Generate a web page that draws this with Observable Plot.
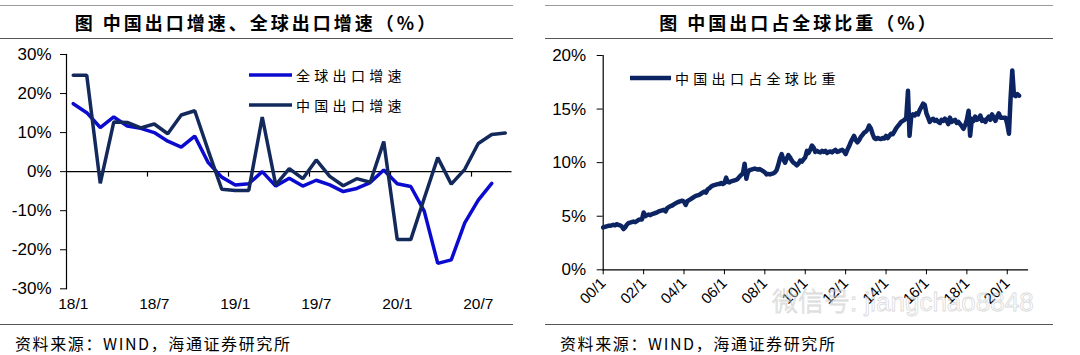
<!DOCTYPE html>
<html>
<head>
<meta charset="utf-8">
<script src="https://cdn.jsdelivr.net/npm/d3@7"></script>
<script src="https://cdn.jsdelivr.net/npm/@observablehq/plot@0.6"></script>
<style>
  html, body { margin: 0; padding: 0; background: #fff; }
  #page { position: relative; width: 1080px; height: 355px; overflow: hidden; background: #fff;
          font-family: "Noto Sans CJK SC", "Liberation Sans", sans-serif; color: #000; }
  .title { position: absolute; top: 5px; height: 32px; border-top: 1px solid #9a9a9a; border-bottom: 1.5px solid #555;
           text-align: center; line-height: 32px; font-weight: 700; font-size: 18px; letter-spacing: 3px; }
  .foot { position: absolute; top: 324px; height: 31px; border-top: 1.3px solid #555; font-size: 16px; letter-spacing: 1.6px; }
  .foot span { position: absolute; top: 6px; white-space: nowrap; }
  .panel { position: absolute; top: 40px; width: 540px; height: 280px; }
  .legend { position: absolute; display: flex; align-items: center; font-size: 14px; letter-spacing: 4.3px; white-space: nowrap; }
  .legend svg { margin-right: 4px; }
  .wm { position: absolute; left: 772px; top: 281px; font-family: "Liberation Sans", "Noto Sans CJK SC", sans-serif;
        font-size: 26px; font-weight: 300; color: rgba(255,255,255,0.2); -webkit-text-stroke: 0.8px rgba(190,190,190,0.6);
        white-space: nowrap; letter-spacing: 0px; pointer-events: none; }
</style>
</head>
<body>
<div id="page">
  <div class="title" style="left:0;width:513px;">图 中国出口增速、全球出口增速（%）</div>
  <div class="title" style="left:545px;width:508px;">图 中国出口占全球比重（%）</div>
  <div class="panel" id="left" style="left:0;"></div>
  <div class="panel" id="right" style="left:540px;"></div>
  <div class="legend" id="legL1" style="left:249px;top:65px;"></div>
  <div class="legend" id="legL2" style="left:249px;top:95px;"></div>
  <div class="legend" id="legR" style="left:630px;top:68px;"></div>
  <div class="wm">微信号: jiangchao8848</div>
  <div class="foot" style="left:0;width:513px;"><span style="left:15px;">资料来源：WIND，海通证券研究所</span></div>
  <div class="foot" style="left:545px;width:508px;"><span style="left:15px;">资料来源：WIND，海通证券研究所</span></div>
</div>
<script>
// ---------- Left chart data: monthly, 2018/1 .. 2020/9 (%) ----------
const leftStartYear = 2018;
const leftTickLabels = ["18/1", "18/7", "19/1", "19/7", "20/1", "20/7"];
const leftYTicks = [-30, -20, -10, 0, 10, 20, 30];
const seriesNames = ["全球出口增速", "中国出口增速"];
const globalGrowth = [
  17.4, 15.1, 11.3, 14.0, 11.7, 11.1, 10.0, 7.8, 6.3, 9.1, 2.3, -1.4,
  -3.4, -3.1, 0.0, -3.7, -1.7, -3.7, -2.2, -3.4, -5.1, -4.3, -2.8, 0.4,
  -3.1, -3.8, -10.1, -23.5, -22.6, -13.1, -7.3, -3.0
];
const chinaGrowth = [
  24.7, 24.7, -3.0, 12.7, 12.6, 11.2, 12.2, 9.7, 14.5, 15.6, 5.4, -4.5,
  -4.8, -4.8, 14.0, -3.4, 0.8, -1.8, 3.0, -1.2, -3.6, -1.8, -2.7, 7.7,
  -17.4, -17.4, -6.8, 3.6, -3.2, 0.6, 7.2, 9.5, 9.9
];

// ---------- Right chart data: monthly share, 2000/1 .. 2020/8 (%) ----------
const rightStartYear = 2000;
const rightTickLabels = ["00/1","02/1","04/1","06/1","08/1","10/1","12/1","14/1","16/1","18/1","20/1"];
const rightYTicks = [0, 5, 10, 15, 20];
const shareName = "中国出口占全球比重";
const chinaShare = [
  3.95,4.0,4.05,4.1,4.1,4.15,4.2,4.15,4.25,4.2,4.15,4.05,        // 2000
  3.8,3.95,4.2,4.35,4.4,4.45,4.5,4.45,4.55,4.65,4.7,4.7,         // 2001
  5.35,5.0,5.1,5.15,5.1,5.2,5.25,5.3,5.35,5.45,5.5,5.55,         // 2002
  5.6,5.45,5.75,5.85,5.95,6.0,6.1,6.2,6.3,6.35,6.4,6.45,         // 2003
  6.35,6.05,6.4,6.5,6.6,6.7,6.8,6.9,6.95,7.0,7.1,7.2,            // 2004
  7.3,7.2,7.5,7.6,7.75,7.85,7.9,7.95,8.0,8.0,8.1,8.0,            // 2005
  8.1,8.6,8.2,8.15,8.25,8.3,8.35,8.4,8.5,8.7,8.85,9.0,           // 2006
  9.9,8.5,9.1,9.3,9.35,9.4,9.45,9.4,9.35,9.4,9.3,9.2,            // 2007
  9.1,8.9,8.95,8.9,8.95,9.0,9.1,9.3,9.8,10.4,10.8,10.3,          // 2008
  10.0,10.4,10.7,10.5,10.2,10.0,9.9,9.75,9.9,10.2,10.1,10.3,     // 2009
  10.5,11.1,10.9,11.2,11.6,11.4,11.0,11.1,11.0,10.95,11.1,11.0,  // 2010
  11.1,10.9,11.0,11.05,10.95,11.1,11.2,11.0,11.05,11.15,11.2,11.05, // 2011
  10.8,11.2,11.5,11.9,12.2,12.5,12.1,11.9,12.1,12.4,12.6,12.8,   // 2012
  12.9,13.1,13.45,13.2,12.7,12.3,12.2,12.3,12.25,12.2,12.3,12.25, // 2013
  12.5,12.3,12.5,12.7,12.65,12.9,13.2,13.4,13.6,13.8,13.9,14.0,  // 2014
  14.2,16.7,12.5,14.3,14.5,14.4,14.6,14.5,14.9,15.2,15.5,15.4,   // 2015
  14.6,14.2,13.8,14.0,14.1,13.9,14.0,13.8,13.7,14.0,13.9,14.1,   // 2016
  13.9,13.6,14.2,13.8,13.9,14.0,13.7,13.8,13.6,13.4,13.15,13.5,  // 2017
  14.0,14.85,12.5,14.1,13.9,14.3,14.0,14.1,14.4,13.9,14.0,13.8,  // 2018
  14.1,14.3,14.0,14.5,14.2,13.9,14.3,14.6,14.2,14.2,14.2,14.2,   // 2019
  13.6,12.7,16.0,18.6,16.3,16.2,16.4,16.25                      // 2020
];

const blue = "#0b0bd0";
const navy = "#14295b";
const navyR = "#0c2462";
const font = "'Liberation Sans', Arial, sans-serif";

// ---------- Left chart ----------
const labelIdx = leftTickLabels.map((_, k) => k * 6);
const boundaryIdx = leftTickLabels.slice(1).map((_, k) => (k + 1) * 6 - 0.5);

const left = Plot.plot({
  width: 540, height: 280,
  marginLeft: 66, marginRight: 28.5, marginTop: 14, marginBottom: 31.7,
  style: {fontFamily: font, color: "#000", background: "transparent", overflow: "visible"},
  x: {domain: [-0.5, chinaGrowth.length - 0.5], label: null},
  y: {domain: [-30, 30], label: null},
  marks: [
    Plot.frame({anchor: "left", stroke: "#000", strokeWidth: 1.2}),
    Plot.ruleY([0], {stroke: "#000", strokeWidth: 1.2}),
    Plot.ruleX(boundaryIdx, {x: d => d, y1: 0, y2: -1.4, stroke: "#000", strokeWidth: 1.2}),
    Plot.axisY({ticks: leftYTicks, tickFormat: d => d + "%", tickSize: 6, tickPadding: 9, fontSize: 17, label: null}),
    Plot.axisX({ticks: labelIdx, tickFormat: i => leftTickLabels[i / 6], tickSize: 0, tickPadding: 9, fontSize: 15.5, label: null}),
    Plot.lineY(globalGrowth, {x: (d, i) => i, y: d => d, stroke: blue, strokeWidth: 3.5, strokeLinejoin: "miter"}),
    Plot.lineY(chinaGrowth, {x: (d, i) => i, y: d => d, stroke: navy, strokeWidth: 3.5, strokeLinejoin: "miter"})
  ]
});
document.getElementById("left").append(left);

// ---------- Right chart ----------
const shareData = chinaShare.map((v, i) => ({
  date: new Date(Date.UTC(rightStartYear + Math.floor(i / 12), i % 12, 1)),
  v
}));
const rightTicks = rightTickLabels.map((_, k) => new Date(Date.UTC(rightStartYear + 2 * k, 0, 1)));

const right = Plot.plot({
  width: 540, height: 280,
  marginLeft: 62.7, marginRight: 53, marginTop: 15, marginBottom: 50.7,
  style: {fontFamily: font, color: "#000", background: "transparent", overflow: "visible"},
  x: {type: "utc", domain: [new Date(Date.UTC(2000, 0, 1)), new Date(Date.UTC(2021, 0, 1))], label: null},
  y: {domain: [0, 20], label: null},
  marks: [
    Plot.frame({anchor: "left", stroke: "#000", strokeWidth: 1.2}),
    Plot.frame({anchor: "bottom", stroke: "#000", strokeWidth: 1.2}),
    Plot.axisY({ticks: rightYTicks, tickFormat: d => d + "%", tickSize: 6, tickPadding: 11, fontSize: 17, label: null}),
    Plot.axisX({ticks: rightTicks, tickFormat: d => rightTickLabels[(d.getUTCFullYear() - rightStartYear) / 2],
                tickRotate: -45, tickSize: 5, tickPadding: 6, fontSize: 15, label: null}),
    Plot.lineY(shareData, {x: "date", y: "v", stroke: navyR, strokeWidth: 4.5, strokeLinejoin: "round", strokeLinecap: "round"})
  ]
});
document.getElementById("right").append(right);

// ---------- Legends (HTML, outside the SVG) ----------
function legend(id, name, color, w) {
  const el = document.getElementById(id);
  el.innerHTML = `<svg width="${w}" height="20"><line x1="0" x2="${w}" y1="10" y2="10" stroke="${color}" stroke-width="${id === 'legR' ? 4.5 : 3.5}" stroke-linecap="round"/></svg><span>${name}</span>`;
}
legend("legL1", seriesNames[0], blue, 43);
legend("legL2", seriesNames[1], navy, 43);
legend("legR", shareName, navyR, 41);
</script>
</body>
</html>
